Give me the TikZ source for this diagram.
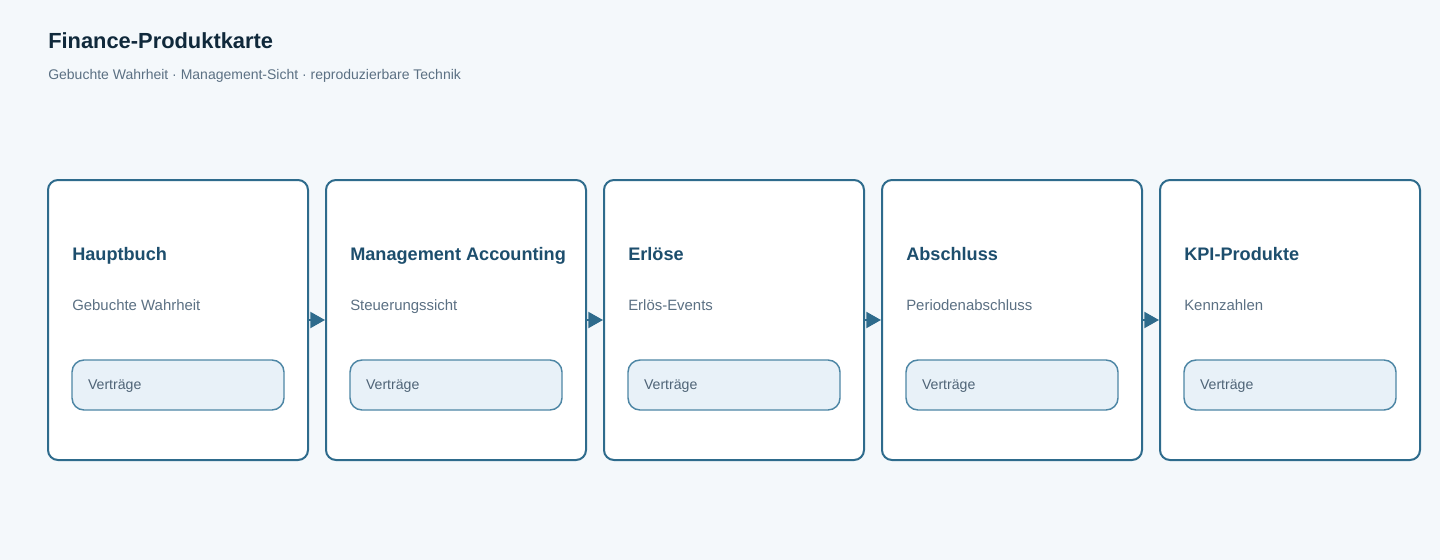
\documentclass[tikz,border=0pt]{standalone}
\usepackage{fontspec}
\setmainfont{Liberation Sans}
\usepackage{xcolor}
\usetikzlibrary{arrows.meta}
\definecolor{pagebg}{HTML}{F4F8FB}
\definecolor{titleink}{HTML}{10293B}
\definecolor{subink}{HTML}{5B7083}
\definecolor{cardline}{HTML}{2E6B8C}
\definecolor{headink}{HTML}{1D4E6D}
\definecolor{pillfill}{HTML}{E8F1F8}
\definecolor{pillline}{HTML}{4D86A5}
\definecolor{pillink}{HTML}{4F6477}
\tikzset{
	card/.style={draw=cardline, fill=white, line width=1.5pt, rounded corners=7.5pt,
			minimum width=195pt, minimum height=210pt, inner sep=0pt},
	cardhead/.style={anchor=base west, inner sep=0pt, text=headink, font=\fontsize{13.6}{16}\selectfont\bfseries},
	cardsub/.style={anchor=base west, inner sep=0pt, text=subink, font=\fontsize{11.2}{13}\selectfont},
	pill/.style={draw=pillline, fill=pillfill, line width=1.1pt, rounded corners=9pt,
			minimum width=159pt, minimum height=37.5pt, text width=135pt, inner xsep=12pt,
			text depth=0pt, align=left, text=pillink, font=\fontsize{10.6}{12}\selectfont},
	flow/.style={draw=cardline, line width=1.5pt, -{Triangle[length=11pt, width=12pt]}}
}

\begin{document}
\begin{tikzpicture}[x=0.75pt, y=-0.75pt]
		\fill[pagebg] (0, 0) rectangle (1440, 560);
		\useasboundingbox (0, 0) rectangle (1440, 560);
		\node[anchor=base west, inner sep=0pt, text=titleink, font=\fontsize{16.4}{19}\selectfont\bfseries] (title) at (48, 48.5) {Finance-Produktkarte};
		\node[anchor=base west, inner sep=0pt, text=subink, font=\fontsize{10.5}{12}\selectfont] (subtitle) at (48, 80) {Gebuchte Wahrheit · Management-Sicht · reproduzierbare Technik};

		\node[card] (hauptbuch) at (178, 320) {};
		\node[card] (mgmt) at (456, 320) {};
		\node[card] (erloese) at (734, 320) {};
		\node[card] (abschluss) at (1012, 320) {};
		\node[card] (kpi) at (1290, 320) {};

		\node[cardhead] (hauptbuchhead) at (72, 260) {Hauptbuch};
		\node[cardsub] (hauptbuchsub) at (72, 310) {Gebuchte Wahrheit};
		\node[pill] (hauptbuchpill) at (178, 385) {Verträge};

		\node[cardhead] (mgmthead) at (350, 260) {Management Accounting};
		\node[cardsub] (mgmtsub) at (350, 310) {Steuerungssicht};
		\node[pill] (mgmtpill) at (456, 385) {Verträge};

		\node[cardhead] (erloesehead) at (628, 260) {Erlöse};
		\node[cardsub] (erloesesub) at (628, 310) {Erlös-Events};
		\node[pill] (erloesepill) at (734, 385) {Verträge};

		\node[cardhead] (abschlusshead) at (906, 260) {Abschluss};
		\node[cardsub] (abschlusssub) at (906, 310) {Periodenabschluss};
		\node[pill] (abschlusspill) at (1012, 385) {Verträge};

		\node[cardhead] (kpihead) at (1184, 260) {KPI-Produkte};
		\node[cardsub] (kpisub) at (1184, 310) {Kennzahlen};
		\node[pill] (kpipill) at (1290, 385) {Verträge};

		\draw[flow] (hauptbuch.east) -- (mgmt.west);
		\draw[flow] (mgmt.east) -- (erloese.west);
		\draw[flow] (erloese.east) -- (abschluss.west);
		\draw[flow] (abschluss.east) -- (kpi.west);
	\end{tikzpicture}
\end{document}
